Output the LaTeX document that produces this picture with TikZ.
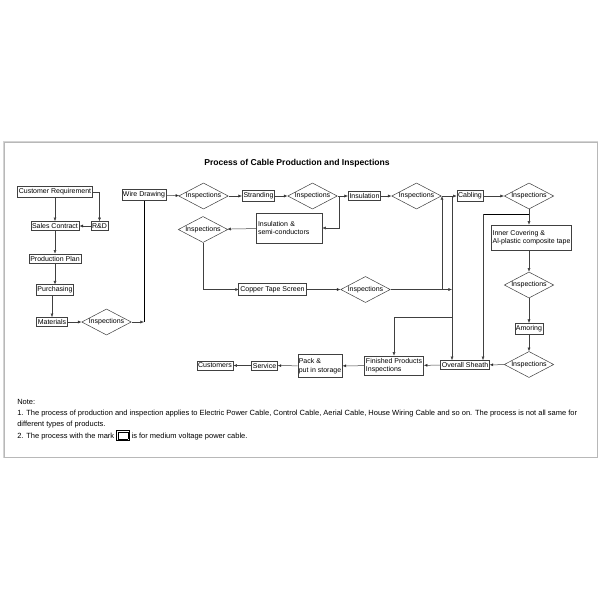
\documentclass[tikz,border=0pt]{standalone}
\usepackage{fontspec}
\setmainfont{Liberation Sans}
\usetikzlibrary{shapes.geometric,arrows.meta}

\definecolor{frame}{gray}{0.72}
\definecolor{ink}{gray}{0.25}
\tikzstyle{stepbox}=[draw=ink, rectangle, inner xsep=1.2pt, inner ysep=2pt, font=\fontsize{7pt}{8.5pt}\selectfont]
\tikzstyle{twobox}=[stepbox, align=left, inner xsep=1.5pt]
\tikzstyle{check}=[draw=ink, diamond, aspect=1.9, inner sep=0.3pt, font=\fontsize{7pt}{8.5pt}\selectfont]
\tikzstyle{arr}=[draw=ink, -{Latex[length=3.6pt,width=3pt]}]

\begin{document}
\begin{tikzpicture}[x=1pt, y=-1pt, line width=0.5pt]
  \useasboundingbox (0,0) rectangle (600,600);
  \draw[frame!60, line width=2pt] (4,142) rectangle (597,457);
  \draw[frame, line width=0.6pt, fill=white] (4,142) rectangle (597,457);

  \node[font=\bfseries\fontsize{8.6pt}{10pt}\selectfont] (title) at (297,163) {Process of Cable Production and Inspections};

  % order side
  \node[stepbox] (CR) at (55,192) {Customer Requirement};
  \node[stepbox] (RD) at (99.5,226) {R\&D};
  \node[stepbox] (SC) at (55,226) {Sales Contract};
  \node[stepbox] (PP) at (55,258.5) {Production Plan};
  \node[stepbox] (PU) at (55,290) {Purchasing};
  \node[stepbox] (MA) at (52,322) {Materials};
  \node[check] (I0) at (106.5,322) {Inspections};
  \draw[arr] (CR) -- (CR |- SC.north);
  \draw[arr] (CR.east) -| (RD.north);
  \path[arr] (RD) edge (SC);
  \draw[arr] (SC) -- (SC |- PP.north);
  \draw[arr] (PP) -- (PP |- PU.north);
  \draw[arr] (PU.south -| MA) -- (MA);
  \path[arr] (MA) edge (I0);

  % main line
  \node[stepbox] (WD) at (144,195) {Wire Drawing};
  \node[check] (I1) at (203.5,196) {Inspections};
  \node[stepbox] (ST) at (258.5,196) {Stranding};
  \node[check] (I2) at (312.5,196) {Inspections};
  \node[stepbox] (IN) at (364.5,196) {Insulation};
  \node[check] (I5) at (416.5,196) {Inspections};
  \node[stepbox] (CA) at (470,196) {Cabling};
  \node[check] (I6) at (529,196) {Inspections};
  \draw (WD) -- (WD |- I0);
  \draw[arr] (I0) -- (WD |- I0);
  \path[arr] (WD) edge (I1);
  \path[arr] (I1) edge (ST);
  \path[arr] (ST) edge (I2);
  \path[arr] (I2) edge (IN);
  \path[arr] (IN) edge (I5);
  \path[arr] (I5) edge (CA);
  \path[arr] (CA) edge (I6);

  % screen branch
  \node[twobox, minimum width=66pt, minimum height=30pt, text width=62pt] (SE) at (289,228) {Insulation \&\\semi-conductors};
  \node[check] (I3) at (203,229.5) {Inspections};
  \node[stepbox, double, double distance=1pt] (CT) at (272.5,289.5) {Copper Tape Screen};
  \node[check] (I4) at (365.5,289.5) {Inspections};
  \coordinate (B2) at (339,196);
  \coordinate (B5) at (442,196);
  \coordinate (B6) at (452,196);
  \coordinate (B7) at (452,317);
  \draw[arr] (B2) |- (SE);
  \path[arr] (SE) edge (I3);
  \draw[arr] (I3) |- (CT);
  \path[arr] (CT) edge (I4);
  \draw[arr] (I4) -| (B5);
  \draw[arr] (I4) -- (I4 -| B6);

  % sheath side
  \node[twobox, inner xsep=1pt, minimum height=25pt] (IC) at (531.5,237.5) {Inner Covering \&\\Al-plastic composite tape};
  \node[check] (I7) at (529,285) {Inspections};
  \node[stepbox] (AM) at (529,328.5) {Amoring};
  \node[check] (I8) at (529,364.5) {Inspections};
  \node[stepbox] (OS) at (465,365) {Overall Sheath};
  \coordinate (B8) at (529,214);
  \coordinate (B9) at (483,214);
  \draw[arr] (I6) -- (I6 |- IC.north);
  \draw (B8) -- (B9);
  \draw[arr] (B9) -- (B9 |- OS.north);
  \draw[arr] (B6) -- (B6 |- OS.north);
  \draw[arr] (IC.south -| I7) -- (I7);
  \path[arr] (I7) edge (AM);
  \path[arr] (AM) edge (I8);
  \path[arr] (I8) edge (OS);

  % delivery
  \node[twobox] (FP) at (394,365.5) {Finished Products\\Inspections};
  \node[twobox, inner xsep=1pt, minimum height=23pt] (PK) at (320,366) {Pack \&\\put in storage};
  \node[stepbox] (SV) at (264.5,365.5) {Service};
  \node[stepbox] (CU) at (215,365.5) {Customers};
  \draw[arr] (B7) -| (FP.north);
  \path[arr] (OS) edge (FP);
  \path[arr] (FP) edge (PK);
  \path[arr] (PK) edge (SV);
  \path[arr] (SV) edge (CU);

  \node[anchor=north west, align=left, inner sep=0pt, font=\fontsize{7.5pt}{11.2pt}\selectfont] (NT) at (17,399) {Note:\\
    1. The process of production and inspection applies to Electric Power Cable, Control Cable, Aerial Cable, House Wiring Cable and so on. The process is not all same for\\
    different types of products.\\
    2. The process with the mark {\setlength\fboxsep{0.8pt}\setlength\fboxrule{0.5pt}\fbox{\fbox{\rule{0pt}{5pt}\hspace{8pt}}}} is for medium voltage power cable.};
\end{tikzpicture}
\end{document}
